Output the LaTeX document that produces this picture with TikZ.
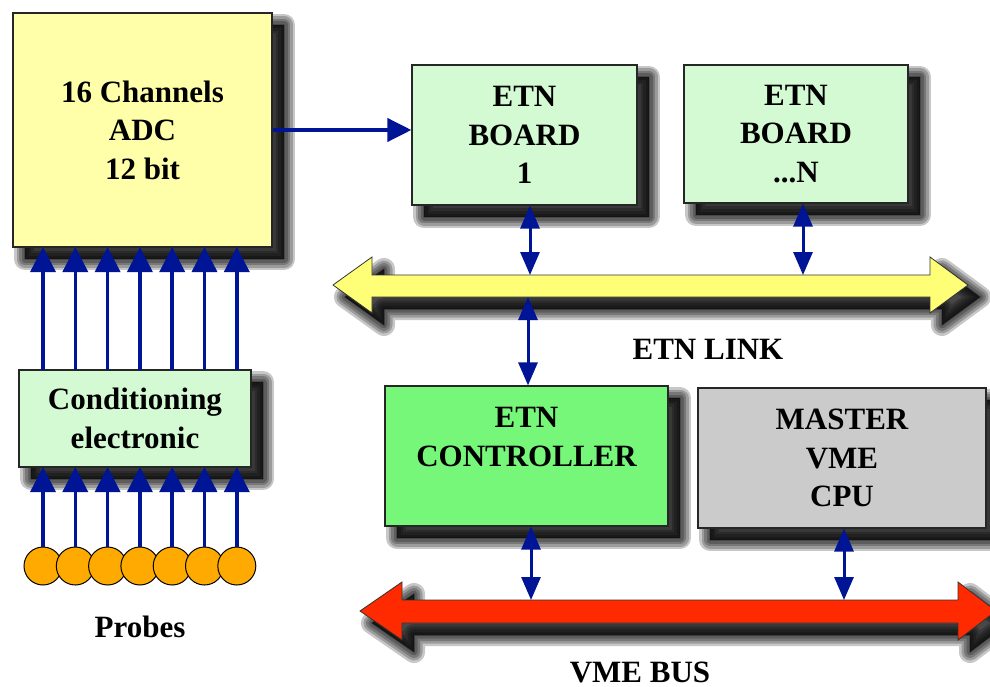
\documentclass[tikz,border=0pt]{standalone}
\usepackage{fontspec}
\setmainfont{Liberation Serif}
\usetikzlibrary{arrows.meta}
\definecolor{adcfill}{RGB}{255,255,170}
\definecolor{lgreen}{RGB}{212,250,212}
\definecolor{bgreen}{RGB}{119,247,122}
\definecolor{cpugray}{RGB}{203,203,203}
\definecolor{ybus}{RGB}{255,255,119}
\definecolor{rbus}{RGB}{255,42,0}
\definecolor{probe}{RGB}{255,170,0}
\definecolor{navy}{RGB}{0,20,150}
\tikzset{
  shl/.style={preaction={fill=black,draw=black,opacity=0.22,line width=#1,line join=round,
     transform canvas={shift={(12pt,-12pt)}}}},
  shd/.style={shl=22pt,shl=17pt,shl=12pt,shl=7pt,shl=2pt},
  blk/.style={draw=black!85,line width=1.2pt,shd,align=center,inner sep=0pt,
    font=\fontsize{31}{38.5}\selectfont\bfseries},
  lbl/.style={font=\fontsize{31}{38}\selectfont\bfseries,inner sep=0pt},
  busarrow/.style={draw=black!80,line width=0.8pt,shd},
  sig/.style={navy,line width=3.5pt,-{Triangle[length=25pt,width=25pt]}},
  main/.style={navy,line width=4pt,-{Triangle[length=24pt,width=23pt]}},
  dbl/.style={navy,line width=3pt,{Triangle[length=23pt,width=19pt]}-{Triangle[length=23pt,width=19pt]}},
  probenode/.style={circle,draw=black,line width=1pt,fill=probe,minimum size=38pt,inner sep=0pt}
}
\begin{document}
\begin{tikzpicture}[x=1pt,y=-1pt]
\useasboundingbox[fill=white] (0,0) rectangle (990,687);

% buses
\path[busarrow,fill=ybus] (333,285) -- (372,257) -- (372,275) -- (930,275) -- (930,257) -- (968,285)
  -- (930,313) -- (930,297) -- (372,297) -- (372,313) -- cycle;
\path[busarrow,fill=rbus] (360,611) -- (402,582) -- (402,600) -- (958,600) -- (958,582) -- (996,611)
  -- (958,640) -- (958,623) -- (402,623) -- (402,640) -- cycle;

% blocks
\node[blk,fill=adcfill,minimum width=259pt,minimum height=234pt] (adc) at (142.5,130)
  {16 Channels\\ADC\\12 bit};
\node[blk,fill=lgreen,minimum width=225pt,minimum height=140pt] (b1) at (524.5,135)
  {ETN\\BOARD\\1};
\node[blk,fill=lgreen,minimum width=224pt,minimum height=138pt] (bN) at (796,134)
  {ETN\\BOARD\\...N};
\node[blk,fill=bgreen,minimum width=283pt,minimum height=140pt] (ctrl) at (526.5,456)
  {ETN\\CONTROLLER\\\mbox{}};
\node[blk,fill=cpugray,minimum width=288pt,minimum height=140pt] (cpu) at (842,458)
  {MASTER\\VME\\CPU};
\node[blk,fill=lgreen,minimum width=232pt,minimum height=97pt] (cond) at (135,418.5)
  {Conditioning\\electronic};

% probes
\foreach \i/\x in {1/43,2/75.3,3/107.6,4/139.9,5/172.2,6/204.5,7/236.8}{
  \node[probenode] (p\i) at (\x,566) {};
}

% signal arrows
\foreach \i/\x in {1/43,2/75.3,3/107.6,4/139.9,5/172.2,6/204.5,7/236.8}{
  \coordinate (ct\i) at (\x,370);
  \coordinate (cb\i) at (\x,467);
  \coordinate (ab\i) at (\x,247);
  \draw[sig] (p\i.north) -- (cb\i);
  \draw[sig] (ct\i) -- (ab\i);
}

\draw[main] (adc.east |- 0,130) -- (b1.west |- 0,130);

% bus coordinates
\coordinate (y1) at (530,275);
\coordinate (yN) at (803,275);
\coordinate (yc) at (528,297);
\coordinate (r1) at (531,600);
\coordinate (r2) at (844,600);

\draw[dbl] (b1.south -| y1) -- (y1);
\draw[dbl] (bN.south -| yN) -- (yN);
\draw[dbl] (yc) -- (ctrl.north -| yc);
\draw[dbl] (ctrl.south -| r1) -- (r1);
\draw[dbl] (cpu.south -| r2) -- (r2);

% labels
\node[lbl] (etnlink) at (708,349) {ETN LINK};
\node[lbl] (vmebus) at (640,672) {VME BUS};
\node[lbl] (probes) at (140,627) {Probes};
\end{tikzpicture}
\end{document}
